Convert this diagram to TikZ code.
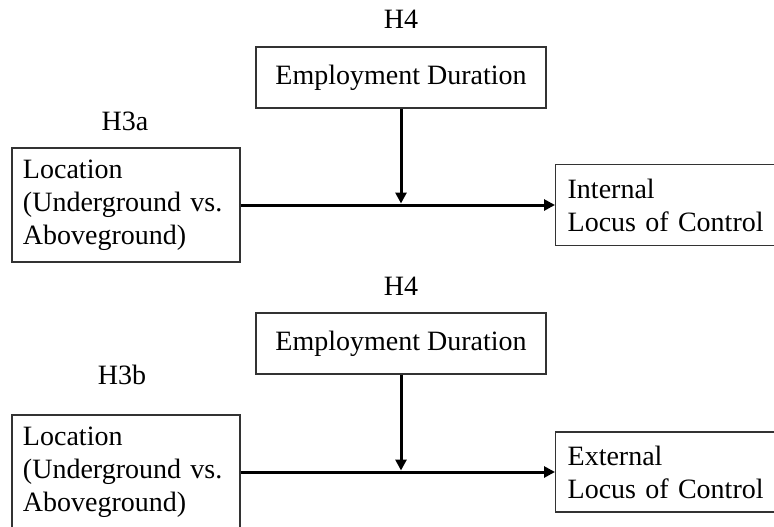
\documentclass[tikz,border=0pt]{standalone}
\usepackage{fontspec}
\setmainfont{Liberation Serif}
\usetikzlibrary{arrows.meta}
\begin{document}
\begin{tikzpicture}[x=1pt,y=-1pt,
  box/.style={draw=black!80, line width=1.3pt, rectangle, font=\fontsize{28}{33}\selectfont, inner sep=0pt},
  lab/.style={font=\fontsize{28}{33}\selectfont, inner sep=0pt},
  conn/.style={line width=3pt, -{Triangle[length=11pt,width=11pt]}}]
\useasboundingbox (0,0) rectangle (774,527);
\clip (0,0) rectangle (774,527);
\fill[white] (0,0) rectangle (774,527);

% ---------- top model ----------
\node[lab] (h4a) at (401,19) {H4};
\node[lab] (h3a) at (125,121) {H3a};
\node[box, minimum width=290pt, minimum height=61pt] (ed1) at (401,77.5) {Employment Duration};
\node[box, minimum width=228pt, minimum height=114pt, text width=206pt, align=left, inner xsep=11pt] (loc1) at (126,205) {Location\\(Underground vs.\\Aboveground)};
\node[box, anchor=west, minimum width=245pt, minimum height=81pt, text width=221pt, align=left, inner xsep=12pt] (int1) at (555,205) {Internal\\Locus of Control};
\coordinate (j1) at (401,205);
\draw[conn] (loc1.east) -- (int1.west);
\draw[conn, shorten >=1.5pt] (ed1.south) -- (j1);

% ---------- bottom model ----------
\node[lab] (h4b) at (401,286) {H4};
\node[lab] (h3b) at (122,375) {H3b};
\node[box, minimum width=290pt, minimum height=61pt] (ed2) at (401,343.5) {Employment Duration};
\node[box, minimum width=228pt, minimum height=114pt, text width=206pt, align=left, inner xsep=11pt] (loc2) at (126,472) {Location\\(Underground vs.\\Aboveground)};
\node[box, anchor=west, minimum width=245pt, minimum height=80pt, text width=221pt, align=left, inner xsep=12pt] (ext2) at (555,472) {External\\Locus of Control};
\coordinate (j2) at (401,472);
\draw[conn] (loc2.east) -- (ext2.west);
\draw[conn, shorten >=1.5pt] (ed2.south) -- (j2);
\end{tikzpicture}
\end{document}
